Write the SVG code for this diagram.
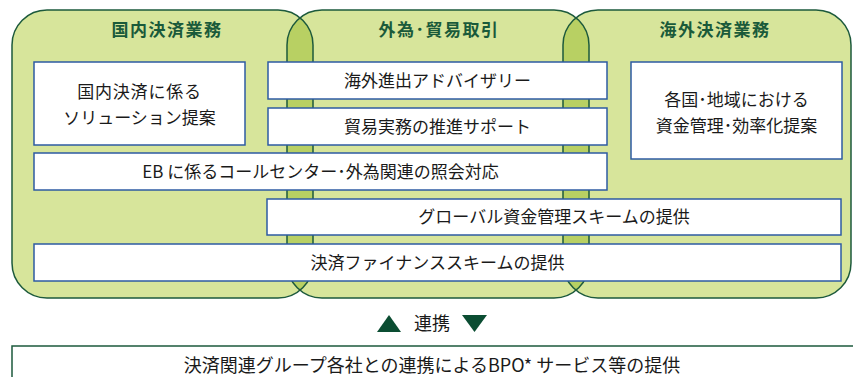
<svg xmlns="http://www.w3.org/2000/svg" width="853" height="377" viewBox="0 0 853 377">
<style>
.area{fill:#d7e59b}
.ov{fill:#b8d063}
.edge{fill:none;stroke:#1d5a3c;stroke-width:1.5}
.box{fill:#ffffff;stroke:#2e5ba3;stroke-width:1.5}
.title{font-family:"Noto Sans CJK JP","Noto Sans",sans-serif;font-size:17px;font-weight:bold;fill:#1a5a3a;text-anchor:middle;letter-spacing:1.5px}
.t{font-family:"Noto Sans CJK JP","Noto Sans",sans-serif;font-size:17px;fill:#1a1a1a;text-anchor:middle}
.big{font-size:18px}
.tri{fill:#0b4d32}
</style>
<defs>
<clipPath id="clipL"><rect x="12" y="10" width="301" height="288" rx="35"/></clipPath>
<clipPath id="clipM"><rect x="287" y="10" width="302" height="288" rx="35"/></clipPath>
</defs>
<g id="areas">
<rect class="area" x="12" y="10" width="301" height="288" rx="35"/>
<rect class="area" x="287" y="10" width="302" height="288" rx="35"/>
<rect class="area" x="563" y="10" width="288" height="288" rx="35"/>
<rect class="ov" x="287" y="10" width="302" height="288" rx="35" clip-path="url(#clipL)"/>
<rect class="ov" x="563" y="10" width="288" height="288" rx="35" clip-path="url(#clipM)"/>
<rect class="edge" x="12" y="10" width="301" height="288" rx="35"/>
<rect class="edge" x="287" y="10" width="302" height="288" rx="35"/>
<rect class="edge" x="563" y="10" width="288" height="288" rx="35"/>
<text class="title" x="167" y="36">国内決済業務</text>
<text class="title" x="439" y="36">外為･貿易取引</text>
<text class="title" x="715" y="36">海外決済業務</text>
</g>
<g id="n1">
<rect class="box" x="34" y="62" width="211" height="83"/>
<text class="t" x="139.5" y="98" letter-spacing="0.8">国内決済に係る</text>
<text class="t" x="139.5" y="124">ソリューション提案</text>
</g>
<g id="n2">
<rect class="box" x="268" y="62" width="339" height="37"/>
<text class="t" x="437.5" y="86.5">海外進出アドバイザリー</text>
</g>
<g id="n3">
<rect class="box" x="268" y="108" width="339" height="37"/>
<text class="t" x="437.5" y="132.5">貿易実務の推進サポート</text>
</g>
<g id="n4">
<rect class="box" x="631" y="62" width="211" height="97"/>
<text class="t" x="736.5" y="106">各国･地域における</text>
<text class="t" x="736.5" y="132">資金管理･効率化提案</text>
</g>
<g id="n5">
<rect class="box" x="34" y="153" width="573" height="37"/>
<text class="t" x="320.5" y="177.5">EB に係るコールセンター･外為関連の照会対応</text>
</g>
<g id="n6">
<rect class="box" x="267" y="199" width="574" height="36"/>
<text class="t" x="554" y="223">グローバル資金管理スキームの提供</text>
</g>
<g id="n7">
<rect class="box" x="34" y="244" width="807" height="37"/>
<text class="t" x="437.5" y="268.5">決済ファイナンススキームの提供</text>
</g>
<g id="connectors">
<polygon class="tri" points="377,332 401,332 389,315"/>
<text class="t big" x="432" y="330">連携</text>
<polygon class="tri" points="462,315 487,315 474.5,332"/>
</g>
<g id="bpo">
<rect x="12" y="346" width="850" height="40" fill="#ffffff" stroke="#1d5a3c" stroke-width="1.5"/>
<text class="t big" x="432" y="372">決済関連グループ各社との連携によるBPO* サービス等の提供</text>
</g>
</svg>
